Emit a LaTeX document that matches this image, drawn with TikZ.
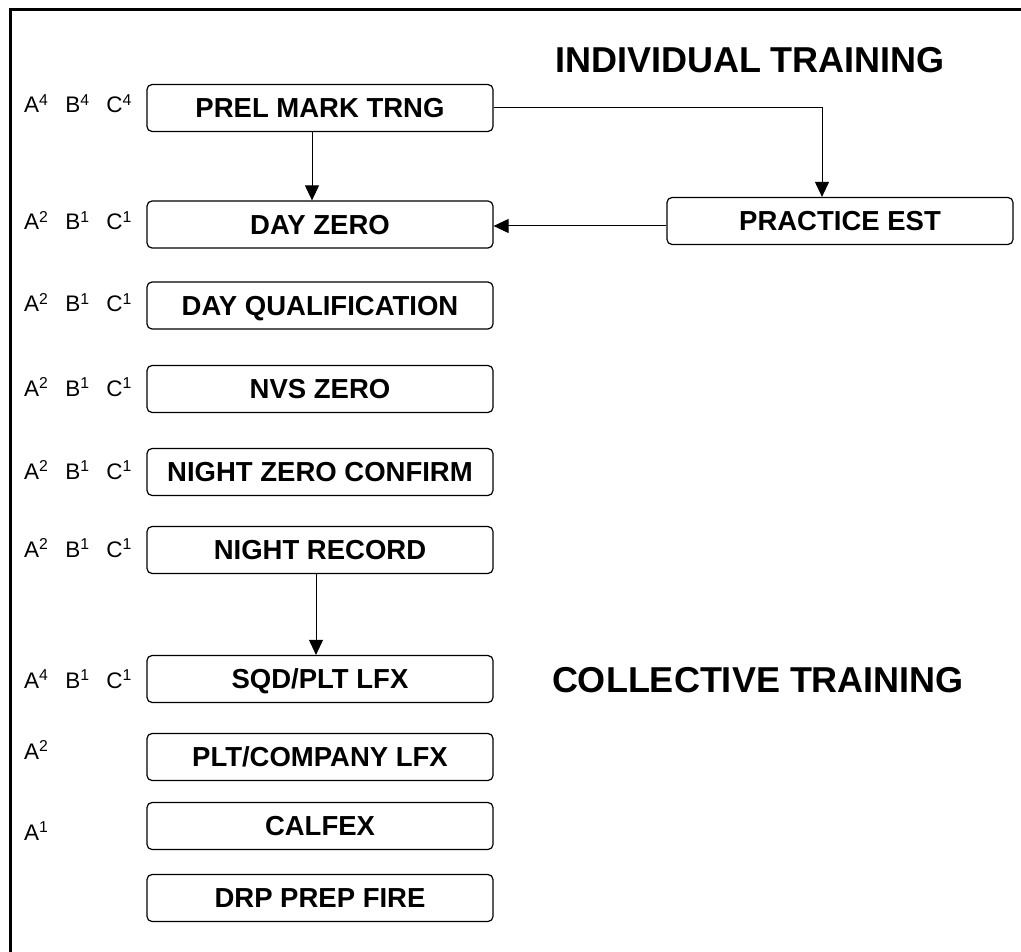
\documentclass[tikz,border=0pt]{standalone}
\usepackage{fontspec}
\setmainfont{Liberation Sans}
\usetikzlibrary{arrows.meta, positioning}

\tikzset{
  stage/.style={draw, rounded corners=5pt, line width=1.2pt, minimum width=346pt, minimum height=47pt,
    inner sep=0pt, text height=19.7pt, text depth=0pt, font=\fontsize{27.5}{30}\selectfont\bfseries},
  grade/.style={anchor=base west, inner sep=0pt, font=\fontsize{22.5}{26}\selectfont},
  heading/.style={anchor=base, inner sep=0pt, font=\fontsize{36}{40}\selectfont\bfseries},
  flow/.style={-{Triangle[length=15pt,width=14pt]}, line width=1pt}
}
\newcommand{\abc}[3]{A\textsuperscript{#1}\hspace{0.75em}B\textsuperscript{#2}\hspace{0.75em}C\textsuperscript{#3}}

\begin{document}
\begin{tikzpicture}[x=1pt, y=-1pt]
   \useasboundingbox (0,0) rectangle (1021,952);
   % frame
   \draw[line width=3pt] (10,952) -- (10,10) -- (1021,10);

   % headings
   \node[heading] (indiv) at (750,73) {INDIVIDUAL TRAINING};
   \node[heading] (coll) at (758,692) {COLLECTIVE TRAINING};

   % stages
   \node[stage] (prel) at (320,108) {PREL MARK TRNG};
   \node[stage] (dayz) at (320,224.5) {DAY ZERO};
   \node[stage] (pest) at (840,221) {PRACTICE EST};
   \node[stage] (dayq) at (320,305.5) {DAY QUALIFICATION};
   \node[stage] (nvsz) at (320,389) {NVS ZERO};
   \node[stage] (nzc) at (320,472) {NIGHT ZERO CONFIRM};
   \node[stage] (nrec) at (320,550) {NIGHT RECORD};
   \node[stage] (sqd) at (320,679) {SQD/PLT LFX};
   \node[stage] (plt) at (320,757) {PLT/COMPANY LFX};
   \node[stage] (calf) at (320,826) {CALFEX};
   \node[stage] (drp) at (320,898) {DRP PREP FIRE};

   % grades
   \node[grade] (g_prel) at (24,113) {\abc{4}{4}{4}};
   \node[grade] (g_dayz) at (24,230) {\abc{2}{1}{1}};
   \node[grade] (g_dayq) at (24,312) {\abc{2}{1}{1}};
   \node[grade] (g_nvsz) at (24,396) {\abc{2}{1}{1}};
   \node[grade] (g_nzc) at (24,479) {\abc{2}{1}{1}};
   \node[grade] (g_nrec) at (24,557) {\abc{2}{1}{1}};
   \node[grade] (g_sqd) at (24,688) {\abc{4}{1}{1}};
   \node[grade] (g_plt) at (24,759) {A\textsuperscript{2}};
   \node[grade] (g_calf) at (24,840) {A\textsuperscript{1}};

   % connectors
   \draw[flow] ([xshift=-8pt]prel.south) -- ([xshift=-8pt]prel.south |- dayz.north);
   \draw[flow] (prel.east) -| ([xshift=-18pt]pest.north);
   \draw[flow] ([yshift=-5pt]pest.west) -- ([yshift=-5pt]pest.west -| dayz.east);
   \draw[flow] ([xshift=-4pt]nrec.south) -- ([xshift=-4pt]nrec.south |- sqd.north);
\end{tikzpicture}
\end{document}
